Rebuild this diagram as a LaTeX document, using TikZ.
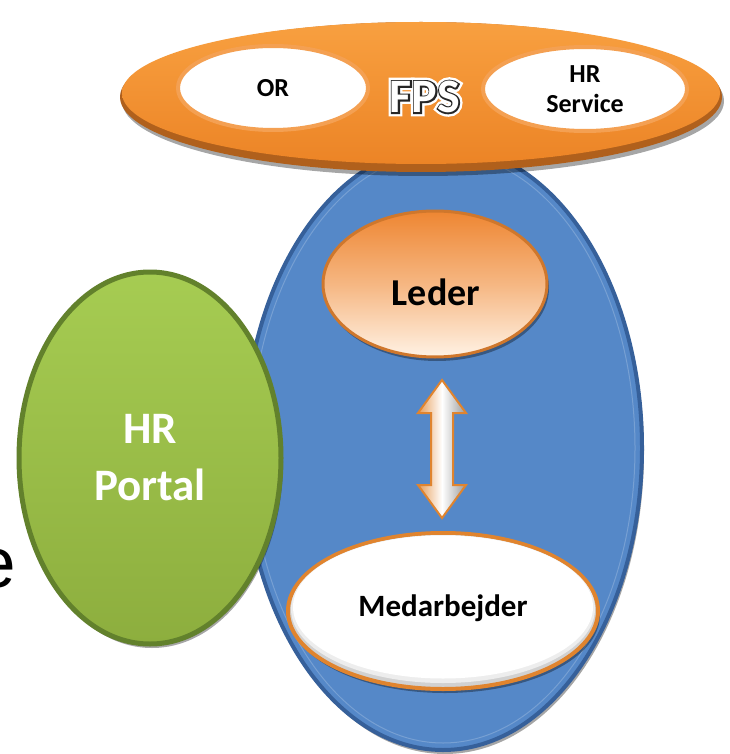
\documentclass[tikz,border=0pt]{standalone}
\usepackage{fontspec}
\setmainfont{Carlito}
\newfontfamily\arialf{Liberation Sans}
\newfontfamily\fpsglow[FakeBold=16]{Carlito Bold}
\newfontfamily\fpsline[FakeBold=6]{Carlito Bold}
\newfontfamily\fpsplain{Carlito Bold}
\usetikzlibrary{shapes.geometric,shadows,calc}
\definecolor{blueF}{HTML}{5588C8}
\definecolor{blueD}{HTML}{36609A}
\definecolor{greenT}{HTML}{A6CC52}
\definecolor{greenB}{HTML}{8DAE3E}
\definecolor{greenD}{HTML}{62812C}
\definecolor{orT}{HTML}{F8A040}
\definecolor{orB}{HTML}{EC8426}
\definecolor{orD}{HTML}{B0601C}
\definecolor{orRim}{HTML}{F4A052}
\definecolor{orLine}{HTML}{E0842E}
\definecolor{ledT}{HTML}{EE8632}
\definecolor{ledB}{HTML}{FFF2E4}
\definecolor{ledD}{HTML}{CF772C}
\begin{document}
\begin{tikzpicture}[x=1pt,y=-1pt,
  ell/.style={ellipse, inner sep=0pt, outer sep=0pt},
  shad/.style={drop shadow={shadow xshift=2pt, shadow yshift=-4pt, opacity=0.35, fill=black}},
  lbl/.style={font=\bfseries\fontsize{#1}{#1}\selectfont, align=center, text=black},
  fpsstyle/.style={inner sep=0pt, font=#1\fontsize{48}{48}\selectfont}
]
\useasboundingbox (0,0) rectangle (729,754);
\fill[white] (0,0) rectangle (729,754);

% partial letter at the left edge
\node[font=\arialf\fontsize{71}{80}\selectfont, anchor=base east, inner sep=0pt] (e) at (16,587) {e};

% blue population ellipse
\node[ell, shad, minimum width=398, minimum height=604, fill=blueF, draw=blueD, line width=4] (blue) at (443,448) {};
\node[ell, minimum width=384, minimum height=590, draw=blueF!80!white, line width=1] (bluehl) at (443,448) {};

% green HR Portal
\node[ell, shad, minimum width=262, minimum height=372, top color=greenT, bottom color=greenB, draw=greenD, line width=5,
      text=white, font=\bfseries\fontsize{45}{57}\selectfont, align=center] (portal) at (150,458) {HR\\Portal};

% orange FPS ellipse
\node[ell, shad, minimum width=602, minimum height=150, fill=orD] (fpsrim) at (421,97) {};
\node[ell, minimum width=598, minimum height=142, top color=orT, bottom color=orB] (fps) at (421,93) {};

% OR and HR Service
\node[ell, minimum width=190, minimum height=84, fill=white, draw=orRim, line width=4, lbl=26] (or) at (273,88) {OR};
\node[ell, minimum width=204, minimum height=84, fill=white, draw=orRim, line width=4,
      font=\bfseries\fontsize{26}{30}\selectfont, align=center] (hrs) at (585,89) {HR\\Service};

% FPS outlined text
\node[fpsstyle=\fpsglow, text=white] (fpsa) at (425,97) {FPS};
\node[fpsstyle=\fpsline, text=black!85] (fpsb) at (fpsa.center) {FPS};
\node[fpsstyle=\fpsplain, text=white] (fpsc) at (fpsa.center) {FPS};

% Leder
\node[ell, shad, minimum width=224, minimum height=146, top color=ledT, bottom color=ledB, middle color=ledT!55!ledB,
      draw=ledD, line width=3] (leder) at (435,284) {};
\node[lbl=38, inner sep=0pt] (ledert) at (436,292) {Leder};

% double arrow
\coordinate (arrc) at (442,449);
\path[left color=orLine!80!white, right color=black!40, middle color=white, draw=orLine, line width=2]
  ($(arrc)+(0,-69)$) -- ($(arrc)+(24,-36)$) -- ($(arrc)+(11,-36)$) -- ($(arrc)+(11,36)$) -- ($(arrc)+(24,36)$)
  -- ($(arrc)+(0,69)$) -- ($(arrc)+(-24,36)$) -- ($(arrc)+(-11,36)$) -- ($(arrc)+(-11,-36)$) -- ($(arrc)+(-24,-36)$) -- cycle;

% Medarbejder
\node[ell, shad, minimum width=310, minimum height=156, fill=black!18, draw=orLine, line width=4] (med) at (443,611) {};
\node[ell, minimum width=304, minimum height=148, fill=black!7] (medin) at (443,609) {};
\node[ell, minimum width=300, minimum height=143, fill=white] (medw) at (443,607) {};
\node[lbl=31, inner sep=0pt] (medt) at (443,608) {Medarbejder};
\end{tikzpicture}
\end{document}
